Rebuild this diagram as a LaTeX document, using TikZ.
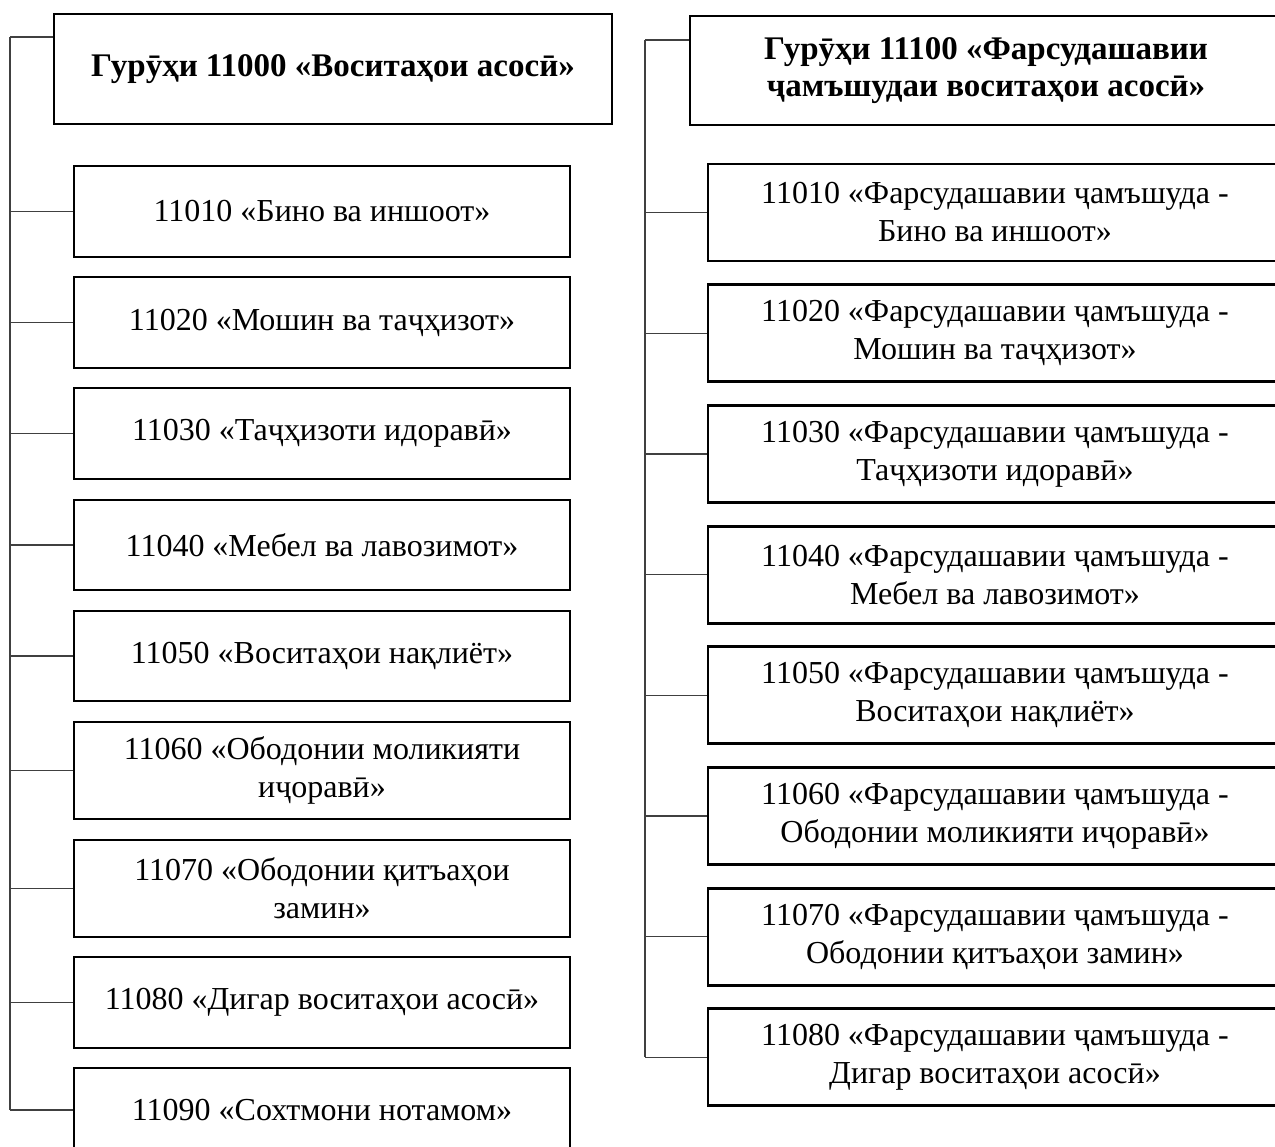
\documentclass[tikz,border=0pt]{standalone}
\usepackage{fontspec}
\setmainfont{Liberation Serif}
\begin{document}
\begin{tikzpicture}[x=1pt,y=-1pt,
  box/.style={draw=black,line width=2.9pt,rectangle,inner sep=0pt,align=center,
    font=\fontsize{32}{38}\selectfont},
  hbox/.style={box,font=\fontsize{33}{37}\selectfont\bfseries},
  lbox/.style={box,minimum width=496pt},
  rbox/.style={box,minimum width=574pt,minimum height=97pt},
  conn/.style={draw=black!75,line width=1.3pt}]
\useasboundingbox (0,0) rectangle (1275,1147);
\clip (0,0) rectangle (1275,1147);
% left column
\node[hbox,minimum width=558pt,minimum height=110pt] (hl) at (333,69) {Гурӯҳи 11000 «Воситаҳои асосӣ»};
\node[lbox,minimum height=91pt] (l1) at (322,211.5) {11010 «Бино ва иншоот»};
\node[lbox,minimum height=91pt] (l2) at (322,322.5) {11020 «Мошин ва таҷҳизот»};
\node[lbox,minimum height=91pt] (l3) at (322,433.5) {11030 «Таҷҳизоти идоравӣ»};
\node[lbox,minimum height=90pt] (l4) at (322,545) {11040 «Мебел ва лавозимот»};
\node[lbox,minimum height=90pt] (l5) at (322,656) {11050 «Воситаҳои нақлиёт»};
\node[lbox,minimum height=97pt] (l6) at (322,770.5) {11060 «Ободонии моликияти\\иҷоравӣ»};
\node[lbox,minimum height=97pt] (l7) at (322,888.5) {11070 «Ободонии қитъаҳои\\замин»};
\node[lbox,minimum height=91pt] (l8) at (322,1002.5) {11080 «Дигар воситаҳои асосӣ»};
\node[lbox,minimum height=84pt] (l9) at (322,1110) {11090 «Сохтмони нотамом»};
\coordinate (lt) at (10,37);
\coordinate (lb) at (lt |- l9.west);
\draw[conn] (lt) -- (lb);
\draw[conn] (lt) -- (lt -| hl.west);
\foreach \n in {l1,l2,l3,l4,l5,l6,l7,l8,l9}
  \draw[conn] (lt |- \n.west) -- (\n.west);
% right column
\node[hbox,minimum width=592pt,minimum height=109pt] (hr) at (986,70.5) {Гурӯҳи 11100 «Фарсудашавии\\ҷамъшудаи воситаҳои асосӣ»};
\node[rbox] (r1) at (995,212.5) {11010 «Фарсудашавии ҷамъшуда -\\Бино ва иншоот»};
\node[rbox] (r2) at (995,333.2) {11020 «Фарсудашавии ҷамъшуда -\\Мошин ва таҷҳизот»};
\node[rbox] (r3) at (995,453.9) {11030 «Фарсудашавии ҷамъшуда -\\Таҷҳизоти идоравӣ»};
\node[rbox] (r4) at (995,574.6) {11040 «Фарсудашавии ҷамъшуда -\\Мебел ва лавозимот»};
\node[rbox] (r5) at (995,695.3) {11050 «Фарсудашавии ҷамъшуда -\\Воситаҳои нақлиёт»};
\node[rbox] (r6) at (995,816) {11060 «Фарсудашавии ҷамъшуда -\\Ободонии моликияти иҷоравӣ»};
\node[rbox] (r7) at (995,936.7) {11070 «Фарсудашавии ҷамъшуда -\\Ободонии қитъаҳои замин»};
\node[rbox] (r8) at (995,1057.4) {11080 «Фарсудашавии ҷамъшуда -\\Дигар воситаҳои асосӣ»};
\coordinate (rt) at (645,40);
\coordinate (rb) at (rt |- r8.west);
\draw[conn] (rt) -- (rb);
\draw[conn] (rt) -- (rt -| hr.west);
\foreach \n in {r1,r2,r3,r4,r5,r6,r7,r8}
  \draw[conn] (rt |- \n.west) -- (\n.west);
\end{tikzpicture}
\end{document}
